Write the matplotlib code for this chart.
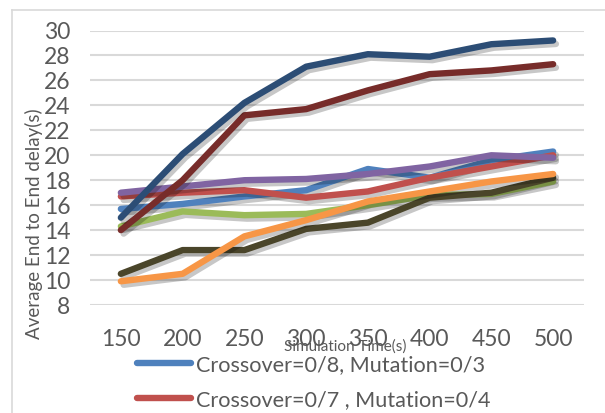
import matplotlib
matplotlib.use("Agg")
import matplotlib.pyplot as plt
import matplotlib.patheffects as pe
from matplotlib.lines import Line2D

plt.rcParams["font.family"] = ["Lato", "DejaVu Sans"]

# ── data ─────────────────────────────────────────────────────────────────
times = [150, 200, 250, 300, 350, 400, 450, 500]

light_blue = [15.7, 16.1, 16.7, 17.2, 18.9, 18.2, 19.6, 20.3]
red        = [16.7, 17.0, 17.2, 16.6, 17.1, 18.2, 19.1, 20.0]
green      = [14.3, 15.5, 15.2, 15.3, 16.0, 16.8, 16.9, 17.9]
purple     = [17.0, 17.5, 18.0, 18.1, 18.5, 19.1, 20.0, 19.8]
olive      = [10.5, 12.4, 12.4, 14.1, 14.6, 16.6, 17.0, 18.2]
orange     = [9.9, 10.5, 13.5, 14.8, 16.3, 17.1, 17.9, 18.5]
dark_red   = [14.0, 18.0, 23.2, 23.7, 25.2, 26.5, 26.8, 27.3]
dark_blue  = [15.0, 20.1, 24.2, 27.1, 28.1, 27.9, 28.9, 29.2]

series = [
    (light_blue, "#4F81BD", "Crossover=0/8, Mutation=0/3"),
    (red,        "#C0504D", "Crossover=0/7 , Mutation=0/4"),
    (green,      "#9BBB59", None),
    (purple,     "#8064A2", None),
    (olive,      "#4A452A", None),
    (orange,     "#F79646", None),
    (dark_red,   "#772C2A", None),
    (dark_blue,  "#2C4D75", None),
]

TXT = "#595959"

fig = plt.figure(figsize=(6.05, 4.13), dpi=100)
ax = fig.add_axes([90 / 605, 1 - 305 / 413, (584 - 90) / 605, (305 - 30.5) / 413])

x = list(range(len(times)))
shadow = [pe.SimpleLineShadow(offset=(2, -2.5), shadow_color="black", alpha=0.22),
          pe.Normal()]
for vals, col, lab in series:
    ax.plot(x, vals, color=col, lw=4.6, solid_capstyle="round",
            solid_joinstyle="round", path_effects=shadow)

ax.set_xlim(-0.5, len(times) - 0.5)
ax.set_ylim(8, 30)
ax.set_yticks(range(8, 31, 2))
ax.set_xticks(x)
ax.set_xticklabels([str(t) for t in times])
ax.grid(axis="y", color="#D9D9D9", lw=1.5)
ax.set_axisbelow(True)
for s in ax.spines.values():
    s.set_visible(False)
ax.tick_params(length=0, labelsize=16.5, colors=TXT)
ax.tick_params(axis="y", pad=14)
ax.tick_params(axis="x", pad=17)

fig.text(34 / 605, 1 - 224 / 413, "Average End to End delay(s)", rotation=90,
         ha="center", va="center", fontsize=13.5, color=TXT)
# in the original the axis title sits over the tick labels
fig.text(345 / 605, 1 - 347 / 413, "Simulation Time(s)", ha="center",
         va="center", fontsize=11, color=TXT)

# outer chart border (right/bottom edges fall outside the crop)
fig.add_artist(Line2D([12 / 605, 1.0], [1 - 9.5 / 413] * 2, color="#D9D9D9", lw=1.2))
fig.add_artist(Line2D([12 / 605] * 2, [0, 1 - 9.5 / 413], color="#D9D9D9", lw=1.2))

handles = [Line2D([], [], color=c, lw=4.6, solid_capstyle="round")
           for _, c, l in series if l]
labels = [l for _, _, l in series if l]
fig.legend(handles, labels, loc="upper left", bbox_to_anchor=(128 / 605, 1 - 346 / 413),
           frameon=False, fontsize=15.6, labelcolor=TXT, handlelength=2.5,
           handletextpad=0.25, labelspacing=0.7, borderaxespad=0)

fig.savefig("out.png", dpi=100)
